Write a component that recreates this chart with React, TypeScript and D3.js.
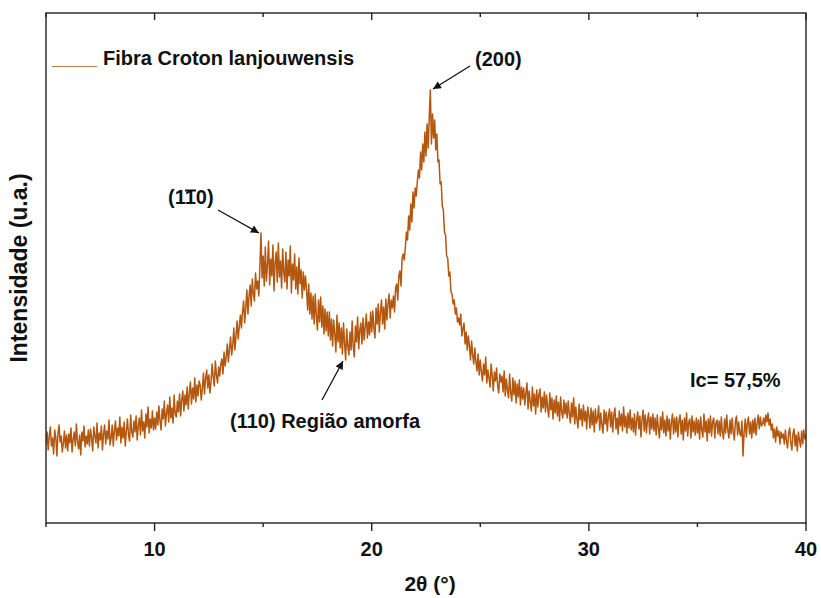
import React from "react";
import * as d3 from "d3";

// 2θ grid: 5° to 40° in 0.05° steps
const twoThetaStart = 5;
const twoThetaStep = 0.05;

// Intensity (a.u.), one row per degree (20 samples)
const intensity: number[] = [
  // 5
  78, 90, 72, 86, 95, 76, 84, 68, 92, 85, 66, 88, 97, 80, 86, 70, 79, 91, 74, 87,
  // 6
  71, 88, 79, 94, 70, 83, 90, 76, 98, 80, 73, 87, 67, 90, 81, 96, 75, 86, 78, 92,
  // 7
  76, 93, 84, 71, 95, 86, 79, 99, 74, 89, 82, 96, 72, 88, 97, 78, 91, 83, 102, 77,
  // 8
  84, 97, 76, 92, 101, 82, 94, 86, 105, 79, 95, 84, 100, 76, 91, 103, 87, 81, 107, 90,
  // 9
  85, 101, 90, 106, 82, 97, 104, 87, 112, 91, 100, 84, 108, 95, 115, 89, 103, 94, 111, 92,
  // 10
  104, 93, 110, 97, 116, 101, 92, 113, 103, 121, 96, 109, 117, 100, 125, 104, 114, 99, 127, 108,
  // 11
  105, 121, 110, 128, 106, 122, 131, 111, 127, 117, 135, 113, 129, 140, 118, 134, 123, 144, 120, 137,
  // 12
  126, 141, 137, 122, 133, 149, 128, 144, 152, 134, 147, 129, 140, 158, 145, 136, 161, 147, 139, 155,
  // 13
  146, 158, 163, 148, 170, 156, 165, 178, 160, 173, 185, 167, 176, 194, 172, 186, 201, 183, 195, 207,
  // 14
  194, 210, 221, 199, 214, 232, 208, 226, 237, 216, 243, 228, 221, 249, 233, 241, 226, 255, 289, 244,
  // 15
  266, 236, 275, 241, 257, 281, 237, 263, 246, 277, 231, 259, 270, 240, 279, 245, 261, 234, 273, 250,
  // 16
  240, 270, 233, 262, 246, 276, 229, 258, 242, 268, 233, 255, 228, 264, 238, 252, 224, 250, 232, 246,
  // 17
  232, 212, 238, 208, 229, 203, 226, 198, 228, 206, 192, 222, 200, 225, 195, 216, 188, 213, 191, 210,
  // 18
  186, 210, 182, 203, 176, 202, 188, 170, 207, 180, 199, 174, 194, 168, 199, 179, 162, 193, 176, 167,
  // 19
  190, 172, 201, 175, 165, 196, 180, 205, 173, 192, 199, 178, 204, 182, 195, 208, 184, 200, 187, 210,
  // 20
  190, 211, 194, 184, 214, 198, 218, 190, 210, 222, 198, 215, 193, 223, 202, 218, 228, 204, 222, 214,
  // 21
  226, 210, 234, 238, 222, 246, 251, 236, 264, 268, 262, 275, 290, 282, 306, 292, 318, 300, 330, 314,
  // 22
  334, 326, 340, 352, 344, 370, 352, 378, 360, 390, 366, 398, 374, 405, 432, 378, 408, 384, 402, 372,
  // 23
  388, 360, 362, 338, 340, 316, 312, 290, 287, 266, 264, 246, 250, 230, 228, 218, 222, 208, 214, 200,
  // 24
  204, 197, 208, 186, 193, 199, 178, 190, 172, 186, 176, 162, 181, 167, 158, 174, 160, 151, 168, 147,
  // 25
  162, 150, 141, 158, 147, 165, 139, 152, 144, 135, 158, 146, 131, 150, 141, 154, 136, 129, 148, 140,
  // 26
  146, 130, 151, 126, 143, 132, 124, 148, 129, 121, 144, 127, 141, 119, 138, 125, 142, 117, 135, 123,
  // 27
  134, 117, 129, 139, 113, 131, 120, 111, 135, 116, 128, 108, 132, 115, 127, 133, 110, 125, 114, 130,
  // 28
  110, 127, 114, 105, 129, 112, 124, 103, 122, 109, 126, 106, 120, 101, 125, 110, 104, 122, 108, 119,
  // 29
  104, 121, 108, 99, 119, 105, 124, 98, 115, 103, 94, 118, 102, 113, 96, 117, 101, 111, 93, 115,
  // 30
  107, 94, 114, 97, 111, 90, 113, 99, 104, 116, 92, 109, 97, 89, 112, 98, 110, 91, 106, 113,
  // 31
  95, 110, 90, 107, 114, 93, 104, 88, 111, 96, 108, 91, 115, 95, 106, 89, 109, 94, 112, 92,
  // 32
  104, 90, 108, 87, 102, 110, 93, 106, 85, 103, 112, 91, 107, 89, 102, 109, 88, 105, 93, 108,
  // 33
  91, 104, 87, 107, 94, 84, 105, 92, 110, 89, 102, 86, 106, 91, 103, 83, 100, 108, 88, 104,
  // 34
  90, 105, 85, 101, 107, 88, 102, 82, 104, 91, 109, 86, 100, 103, 84, 106, 90, 101, 87, 104,
  // 35
  89, 102, 83, 105, 92, 85, 108, 90, 101, 81, 103, 89, 106, 86, 100, 104, 84, 99, 102, 88,
  // 36
  101, 86, 105, 90, 83, 103, 89, 107, 92, 84, 102, 88, 104, 90, 82, 101, 106, 87, 100, 89,
  // 37
  86, 101, 66, 90, 103, 85, 99, 105, 88, 100, 84, 102, 89, 104, 87, 99, 107, 93, 105, 96,
  // 38
  98, 104, 96, 107, 100, 109, 97, 103, 92, 98, 84, 93, 80, 95, 86, 91, 78, 90, 84, 88,
  // 39
  78, 92, 81, 74, 89, 94, 79, 72, 88, 93, 76, 87, 71, 90, 82, 75, 91, 78, 92, 83,
  // 40
  87,
];

const majorTicks = [10, 20, 30, 40];
const minorTicks = [5, 15, 25, 35];
const xDomain = [5, 40];
const yDomain = [-1, 509];

const seriesName = "Fibra Croton lanjouwensis";
const xTitle = "2θ (°)";
const yTitle = "Intensidade (u.a.)";
const crystallinity = "Ic= 57,5%";

const W = 821;
const H = 598;
const M = { left: 46, right: 806, top: 13, bottom: 523 };
const LINE_COLOR = "#b4570f";
const FONT = "'Liberation Sans', Arial, Helvetica, sans-serif";

export default function App() {
  const x = d3.scaleLinear().domain(xDomain).range([M.left, M.right]);
  const y = d3.scaleLinear().domain(yDomain).range([M.bottom, M.top]);
  const pts: [number, number][] = intensity.map((v, i) => [twoThetaStart + i * twoThetaStep, v]);
  const line = d3
    .line<[number, number]>()
    .x((d) => x(d[0]))
    .y((d) => y(d[1]));

  const textStyle: React.CSSProperties = { fontFamily: FONT, fontWeight: 700, fontSize: 20, fill: "#111" };

  return (
    <div style={{ position: "fixed", left: 0, top: 0 }}>
      <svg width={W} height={H} viewBox={`0 0 ${W} ${H}`} style={{ display: "block", background: "#fff" }}>
        <defs>
          <marker id="ah" viewBox="0 0 10 10" refX="10" refY="5" markerWidth="11" markerHeight="8"
            markerUnits="userSpaceOnUse" orient="auto">
            <path d="M0,0 L10,5 L0,10 Z" fill="#111" />
          </marker>
          <clipPath id="clip">
            <rect x={M.left} y={M.top} width={M.right - M.left} height={M.bottom - M.top} />
          </clipPath>
        </defs>

        {/* data */}
        <path d={line(pts) || ""} fill="none" stroke={LINE_COLOR} strokeWidth={1.5}
          strokeLinejoin="round" clipPath="url(#clip)" />

        {/* frame */}
        <rect x={M.left} y={M.top} width={M.right - M.left} height={M.bottom - M.top}
          fill="none" stroke="#222" strokeWidth={1.4} />

        {/* bottom ticks (outward) */}
        {majorTicks.map((t) => (
          <line key={"bM" + t} x1={x(t)} x2={x(t)} y1={M.bottom} y2={M.bottom + 8} stroke="#222" strokeWidth={1.4} />
        ))}
        {minorTicks.map((t) => (
          <line key={"bm" + t} x1={x(t)} x2={x(t)} y1={M.bottom} y2={M.bottom + 4} stroke="#222" strokeWidth={1.4} />
        ))}
        {/* top ticks (inward) */}
        {majorTicks.map((t) => (
          <line key={"tM" + t} x1={x(t)} x2={x(t)} y1={M.top} y2={M.top + 7} stroke="#222" strokeWidth={1.4} />
        ))}
        {minorTicks.map((t) => (
          <line key={"tm" + t} x1={x(t)} x2={x(t)} y1={M.top} y2={M.top + 4} stroke="#222" strokeWidth={1.4} />
        ))}
        {majorTicks.map((t) => (
          <text key={"l" + t} x={x(t)} y={556} textAnchor="middle" style={textStyle}>{t}</text>
        ))}

        {/* axis titles */}
        <text x={(M.left + M.right) / 2 + 4} y={591} textAnchor="middle" style={{ ...textStyle, fontSize: 21 }}>{xTitle}</text>
        <text transform={`translate(27,${(M.top + M.bottom) / 2}) rotate(-90)`} textAnchor="middle"
          style={{ ...textStyle, fontSize: 23 }}>{yTitle}</text>

        {/* legend */}
        <line x1={52} x2={97} y1={66.5} y2={66.5} stroke="#c97a3c" strokeWidth={1.2} />
        <text x={103} y={65} style={textStyle}>{seriesName}</text>

        {/* annotations */}
        <text x={475} y={66} style={textStyle}>(200)</text>
        <line x1={470} y1={66} x2={433} y2={89} stroke="#111" strokeWidth={1.3} markerEnd="url(#ah)" />

        <text x={168} y={204} style={textStyle}>
          <tspan>(1</tspan>
          <tspan>1</tspan>
          <tspan>0)</tspan>
        </text>
        <line x1={185} x2={196} y1={190.5} y2={190.5} stroke="#111" strokeWidth={2} />
        <line x1={218} y1={210} x2={259} y2={233} stroke="#111" strokeWidth={1.3} markerEnd="url(#ah)" />

        <text x={230} y={428} style={textStyle}>(110) Região amorfa</text>
        <line x1={322} y1={400} x2={343} y2={361} stroke="#111" strokeWidth={1.3} markerEnd="url(#ah)" />

        <text x={690} y={387} style={textStyle}>{crystallinity}</text>
      </svg>
    </div>
  );
}
